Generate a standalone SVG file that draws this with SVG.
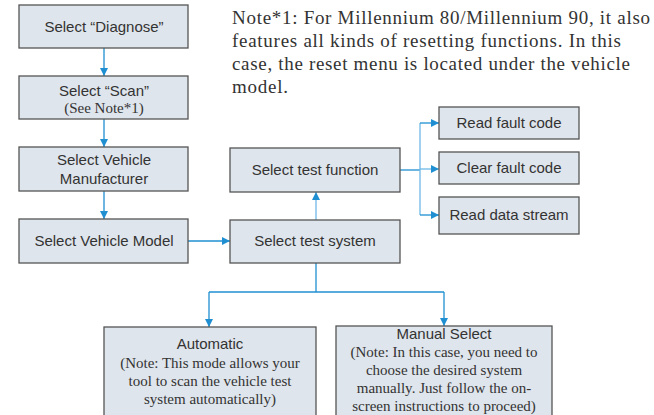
<svg xmlns="http://www.w3.org/2000/svg" width="654" height="415" viewBox="0 0 654 415">
<style>
.box{fill:#dfe5ec;stroke:#555;stroke-width:1.3}
.t{font-family:"Liberation Sans",Arial,sans-serif;font-size:15px;fill:#333;text-anchor:middle}
.s{font-family:"Liberation Serif","Times New Roman",serif;font-size:15px;fill:#333;text-anchor:middle}
.note{font-family:"Liberation Serif","Times New Roman",serif;font-size:19px;fill:#333}
.c{fill:none;stroke:#1f8fd2;stroke-width:1.3}
.cl{fill:none;stroke:#6db8e6;stroke-width:1.3}
</style>
<defs>
<marker id="ah" viewBox="0 0 10 10" refX="10" refY="5" markerWidth="8" markerHeight="8" markerUnits="userSpaceOnUse" orient="auto">
<path d="M0,0 L10,5 L0,10 z" fill="#1f8fd2"/>
</marker>
</defs>
<g id="note">
<text class="note" x="232" y="24" textLength="418" lengthAdjust="spacing">Note*1: For Millennium 80/Millennium 90, it also</text>
<text class="note" x="232" y="47" textLength="389" lengthAdjust="spacing">features all kinds of resetting functions. In this</text>
<text class="note" x="232" y="70" textLength="398" lengthAdjust="spacing">case, the reset menu is located under the vehicle</text>
<text class="note" x="232" y="93" textLength="56" lengthAdjust="spacing">model.</text>
</g>
<g id="connectors">
<line class="c" x1="104" y1="48" x2="104" y2="76" marker-end="url(#ah)"/>
<line class="c" x1="104" y1="119" x2="104" y2="147" marker-end="url(#ah)"/>
<line class="c" x1="104" y1="191" x2="104" y2="219" marker-end="url(#ah)"/>
<line class="c" x1="188" y1="241" x2="230" y2="241" marker-end="url(#ah)"/>
<line class="cl" x1="316" y1="220" x2="316" y2="192" marker-end="url(#ah)"/>
<line class="c" x1="400" y1="170" x2="420" y2="170" stroke-width="2"/>
<polyline class="cl" points="420,123 420,215"/>
<polyline class="c" points="420,123 439,123" marker-end="url(#ah)"/>
<polyline class="cl" points="420,169 439,169" marker-end="url(#ah)"/>
<polyline class="c" points="420,215 439,215" marker-end="url(#ah)"/>
<polyline class="c" points="316,263 316,292"/>
<polyline class="c" points="209,292 444,292"/>
<line class="c" x1="209" y1="292" x2="209" y2="327" marker-end="url(#ah)"/>
<line class="c" x1="444" y1="292" x2="444" y2="326" marker-end="url(#ah)"/>
</g>
<g id="diagnose"><rect class="box" x="19" y="5" width="169" height="43"/><text class="t" x="104" y="32">Select “Diagnose”</text></g>
<g id="scan"><rect class="box" x="19" y="76" width="169" height="43"/><text class="t" x="104" y="96">Select “Scan”</text><text class="s" x="104" y="113" font-size="14">(See Note*1)</text></g>
<g id="manufacturer"><rect class="box" x="19" y="147" width="169" height="44"/><text class="t" x="104" y="165">Select Vehicle</text><text class="t" x="104" y="184">Manufacturer</text></g>
<g id="model"><rect class="box" x="19" y="219" width="169" height="44"/><text class="t" x="104" y="246">Select Vehicle Model</text></g>
<g id="function"><rect class="box" x="230" y="148" width="170" height="44"/><text class="t" x="315" y="175">Select test function</text></g>
<g id="system"><rect class="box" x="230" y="220" width="170" height="43"/><text class="t" x="315" y="246">Select test system</text></g>
<g id="readfault"><rect class="box" x="439" y="107" width="140" height="32"/><text class="t" x="509" y="128">Read fault code</text></g>
<g id="clearfault"><rect class="box" x="439" y="152" width="140" height="32"/><text class="t" x="509" y="173">Clear fault code</text></g>
<g id="datastream"><rect class="box" x="439" y="197" width="140" height="37"/><text class="t" x="509" y="220">Read data stream</text></g>
<g id="automatic"><rect class="box" x="104" y="327" width="212" height="95"/>
<text class="t" x="210" y="349">Automatic</text>
<text class="s" x="210" y="368">(Note: This mode allows your</text>
<text class="s" x="210" y="386">tool to scan the vehicle test</text>
<text class="s" x="210" y="404">system automatically)</text></g>
<g id="manual"><rect class="box" x="336" y="326" width="216" height="95"/>
<text class="t" x="444" y="339">Manual Select</text>
<text class="s" x="444" y="357">(Note: In this case, you need to</text>
<text class="s" x="444" y="375">choose the desired system</text>
<text class="s" x="444" y="393">manually. Just follow the on-</text>
<text class="s" x="444" y="411">screen instructions to proceed)</text></g>
</svg>
